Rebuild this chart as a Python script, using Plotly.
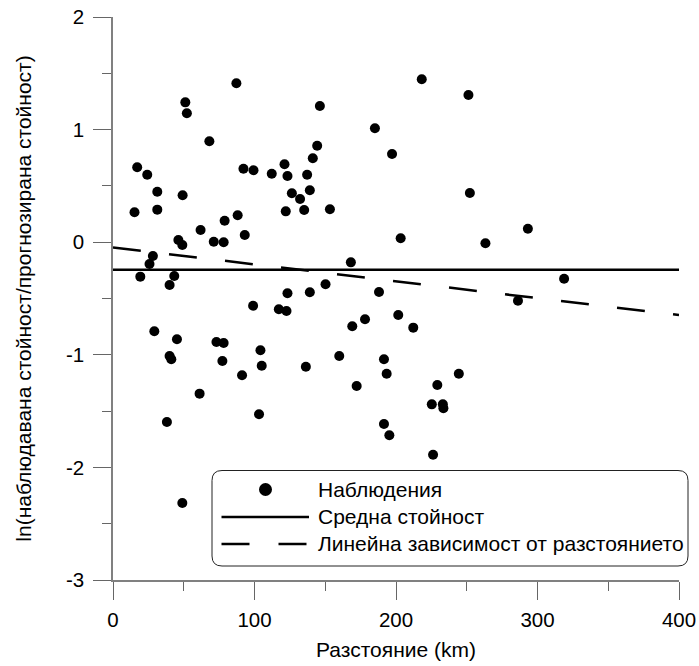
import plotly.graph_objects as go

# Observed residuals: distance (km) and ln(observed/predicted)
distance_km = [
    87.2, 51.1, 52.2, 68.1, 17.1, 24.2, 92.2, 99.3, 112.2, 121.2,
    123.3, 31.3, 49.2, 126.4, 132.2, 15.2, 31.3, 122.1, 88.1, 78.9,
    61.9, 93.1, 46.2, 49.0, 71.2, 78.2, 28.2, 25.8, 19.3, 43.3,
    40.0, 123.3, 99.0, 117.2, 122.6, 29.2, 45.2, 73.1, 78.2, 104.2,
    40.0, 41.2, 77.3, 105.1, 91.2, 61.2, 103.2, 38.1, 49.0, 218.2,
    251.2, 146.2, 185.1, 197.2, 144.3, 141.2, 137.2, 139.1, 135.1, 153.3,
    252.2, 203.3, 168.1, 139.1, 150.2, 188.0, 178.1, 169.1, 201.6, 212.2,
    159.9, 136.3, 191.5, 193.4, 172.2, 244.4, 229.2, 225.3, 233.1, 233.5,
    191.5, 195.3, 226.2, 263.2, 293.2, 318.8, 286.2,
]
ln_ratio = [
    1.411, 1.242, 1.145, 0.896, 0.665, 0.599, 0.653, 0.639, 0.608, 0.692,
    0.588, 0.448, 0.417, 0.434, 0.384, 0.266, 0.289, 0.274, 0.239, 0.191,
    0.108, 0.064, 0.020, -0.025, 0.004, -0.001, -0.123, -0.194, -0.306, -0.300,
    -0.380, -0.454, -0.564, -0.596, -0.611, -0.791, -0.862, -0.886, -0.895, -0.960,
    -1.011, -1.040, -1.055, -1.097, -1.182, -1.345, -1.528, -1.597, -2.316, 1.447,
    1.307, 1.210, 1.012, 0.783, 0.857, 0.745, 0.599, 0.461, 0.286, 0.292,
    0.437, 0.035, -0.179, -0.445, -0.374, -0.442, -0.685, -0.747, -0.647, -0.759,
    -1.011, -1.106, -1.040, -1.168, -1.277, -1.168, -1.268, -1.440, -1.440, -1.475,
    -1.615, -1.715, -1.887, -0.010, 0.120, -0.324, -0.520,
]

# Mean residual and linear trend with distance
line_x = [0, 400]
mean_value = [-0.245, -0.245]
trend_value = [-0.047, -0.647]

x_ticks = [0, 100, 200, 300, 400]
y_ticks = [-3, -2, -1, 0, 1, 2]
y_tick_text = ["-3", "-2", "-1", "0", "1", "2"]

legend_labels = ["Наблюдения", "Средна стойност", "Линейна зависимост от разстоянието"]
x_title = "Разстояние (km)"
y_title = "ln(наблюдавана стойност/прогнозирана стойност)"

FONT = "Liberation Sans, Arial, sans-serif"
TEXT_SIZE = 21
TICK_SIZE = 20.5
W, H = 699, 666
ML, MR, MT, MB = 113, 20, 17, 86
PW, PH = W - ML - MR, H - MT - MB


def px_x(px):
    return (px - ML) / PW


def px_y(py):
    return (H - MB - py) / PH


fig = go.Figure()

fig.add_trace(go.Scatter(
    x=distance_km, y=ln_ratio, mode="markers",
    marker=dict(color="black", size=10, line=dict(width=0)),
    name=legend_labels[0], showlegend=False, cliponaxis=False,
))
fig.add_trace(go.Scatter(
    x=line_x, y=mean_value, mode="lines",
    line=dict(color="black", width=2.5),
    name=legend_labels[1], showlegend=False,
))
fig.add_trace(go.Scatter(
    x=line_x, y=trend_value, mode="lines",
    line=dict(color="black", width=2.5, dash="28px,28.4px"),
    name=legend_labels[2], showlegend=False,
))

axis_common = dict(
    showline=True, linecolor="#808080", linewidth=1.5,
    ticks="outside", ticklen=18, tickwidth=1.2, tickcolor="#666666",
    showgrid=False, zeroline=False, automargin=False,
    tickfont=dict(family=FONT, size=TICK_SIZE, color="black"),
    mirror=False,
)

fig.update_xaxes(
    range=[0, 400], tickvals=x_ticks, ticklabelstandoff=3,
    minor=dict(ticks="outside", ticklen=9, tickwidth=1.2, tickcolor="#666666",
               tickvals=[50, 150, 250, 350]),
    title=dict(text=x_title, font=dict(family=FONT, size=TEXT_SIZE, color="black"), standoff=12),
    **axis_common,
)
fig.update_yaxes(
    range=[-3, 2], tickvals=y_ticks, ticktext=y_tick_text, ticklabelstandoff=5,
    minor=dict(ticks="outside", ticklen=9, tickwidth=1.2, tickcolor="#666666",
               tickvals=[-2.5, -1.5, -0.5, 0.5, 1.5]),
    title=dict(text=y_title, font=dict(family=FONT, size=TEXT_SIZE, color="black"), standoff=29),
    **axis_common,
)

# Legend box with rounded corners
bx0, bx1, by0, by1, r = 212, 688, 470.5, 566, 10
rx, ry = r / PW, r / PH
L, R, T, B = px_x(bx0), px_x(bx1), px_y(by0), px_y(by1)
box_path = (
    f"M {L + rx},{T} L {R - rx},{T} Q {R},{T} {R},{T - ry} "
    f"L {R},{B + ry} Q {R},{B} {R - rx},{B} "
    f"L {L + rx},{B} Q {L},{B} {L},{B + ry} "
    f"L {L},{T - ry} Q {L},{T} {L + rx},{T} Z"
)
shapes = [
    dict(type="path", path=box_path, xref="paper", yref="paper",
         line=dict(color="#222222", width=1), fillcolor="white", layer="above"),
    dict(type="circle", xref="paper", yref="paper",
         x0=px_x(259), x1=px_x(272), y0=px_y(483), y1=px_y(496),
         fillcolor="black", line=dict(width=0), layer="above"),
    dict(type="line", xref="paper", yref="paper",
         x0=px_x(221.5), x1=px_x(309), y0=px_y(517), y1=px_y(517),
         line=dict(color="black", width=2.5), layer="above"),
    dict(type="line", xref="paper", yref="paper",
         x0=px_x(221.5), x1=px_x(306.5), y0=px_y(544), y1=px_y(544),
         line=dict(color="black", width=2.5, dash="28px,29px"), layer="above"),
]

annotations = []
for label, cy in zip(legend_labels, [489.5, 516.5, 543.5]):
    annotations.append(dict(
        text=label, xref="paper", yref="paper", x=px_x(316), y=px_y(cy),
        xanchor="left", yanchor="middle", showarrow=False,
        font=dict(family=FONT, size=TEXT_SIZE, color="black"),
    ))

fig.update_layout(
    width=W, height=H,
    margin=dict(l=ML, r=MR, t=MT, b=MB, autoexpand=False),
    paper_bgcolor="white", plot_bgcolor="white",
    showlegend=False,
    shapes=shapes, annotations=annotations,
    font=dict(family=FONT, color="black"),
)

fig.write_html("out.html")
